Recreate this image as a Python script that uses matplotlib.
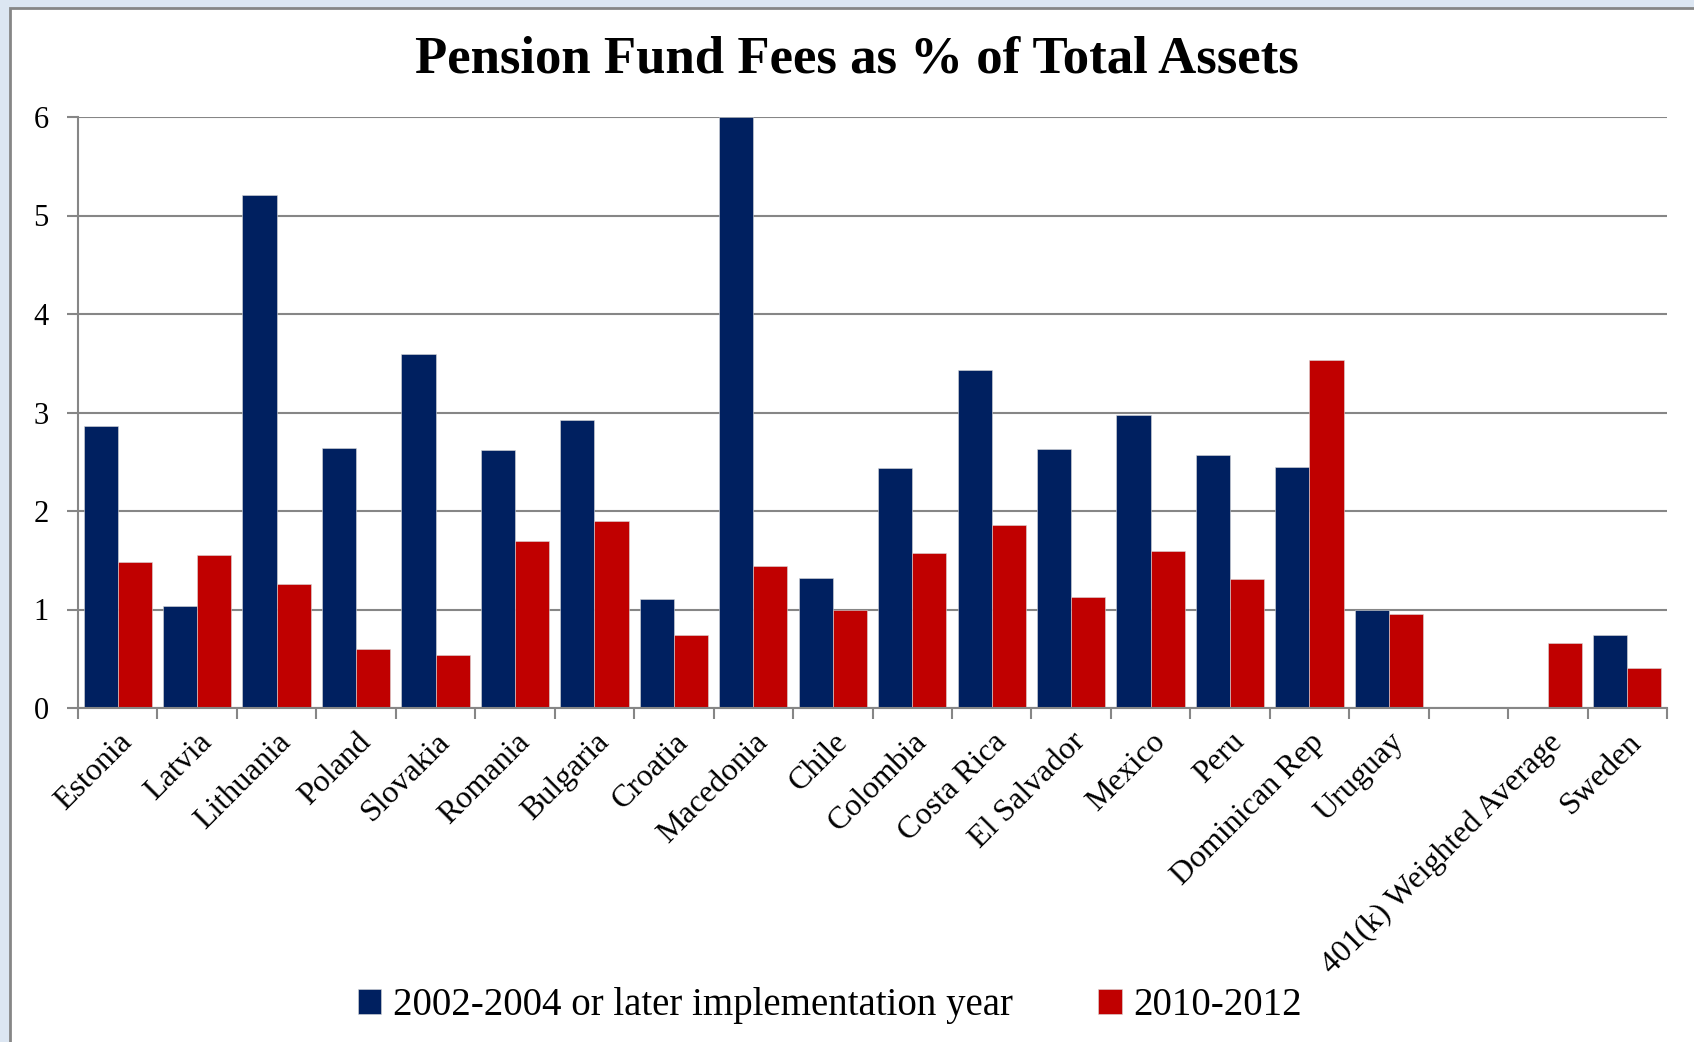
import matplotlib.pyplot as plt
import matplotlib.patches as mpatches
import matplotlib.transforms as mtransforms
import numpy as np

plt.rcParams['font.family'] = ['Liberation Serif', 'DejaVu Serif']

countries = ['Estonia', 'Latvia', 'Lithuania', 'Poland', 'Slovakia', 'Romania',
             'Bulgaria', 'Croatia', 'Macedonia', 'Chile', 'Colombia', 'Costa Rica',
             'El Salvador', 'Mexico', 'Peru', 'Dominican Rep', 'Uruguay', '',
             '401(k) Weighted Average', 'Sweden']
fees_early = [2.86, 1.04, 5.21, 2.64, 3.59, 2.62, 2.92, 1.11, 6.0, 1.32, 2.44, 3.43,
              2.63, 2.97, 2.57, 2.45, 1.0, np.nan, np.nan, 0.74]
fees_late = [1.48, 1.55, 1.26, 0.60, 0.54, 1.70, 1.90, 0.74, 1.44, 1.0, 1.57, 1.86,
             1.13, 1.59, 1.31, 3.53, 0.95, np.nan, 0.66, 0.41]
series_names = ['2002-2004 or later implementation year', '2010-2012']
navy = '#002060'
red = '#c00000'
grey = '#868686'

fig = plt.figure(figsize=(16.94, 10.42), dpi=100, facecolor='#dce6f2')
# white panel with grey frame, like the pasted chart area
panel = mpatches.Rectangle((10 / 1694, -0.1), 1.1, 1 - 8 / 1042 + 0.1,
                           transform=fig.transFigure, facecolor='white',
                           edgecolor=grey, linewidth=2, zorder=-5)
fig.patches.append(panel)

ax = fig.add_axes([78 / 1694, 1 - 708 / 1042, (1667 - 78) / 1694, (708 - 117) / 1042])
ax.set_facecolor('none')

x = np.arange(len(countries))
w = 0.43
ax.bar(x - w / 2, fees_early, w, color=navy, edgecolor='#d9d9d9', linewidth=0.4,
       label=series_names[0], zorder=3)
ax.bar(x + w / 2, fees_late, w, color=red, edgecolor='#d9d9d9', linewidth=0.4,
       label=series_names[1], zorder=3)

ax.set_xlim(-0.5, len(countries) - 0.5)
ax.set_ylim(0, 6)
ax.set_yticks(range(7))
ax.yaxis.grid(True, color=grey, linewidth=1.5, zorder=0)
for s in ['top', 'right']:
    ax.spines[s].set_visible(False)
for s in ['left', 'bottom']:
    ax.spines[s].set_color(grey)
    ax.spines[s].set_linewidth(1.5)
    ax.spines[s].set_zorder(4)

ax.set_xticks(np.arange(len(countries) + 1) - 0.5, minor=False)
ax.set_xticklabels([])
ax.set_xticks(x, minor=True)
labels = ax.set_xticklabels(countries, minor=True, rotation=45, ha='right', va='top',
                            rotation_mode='anchor', fontsize=23)
# nudge the rotated labels a little to the left
shift = mtransforms.ScaledTranslation(-7 / 72, 0, fig.dpi_scale_trans)
for lab in labels:
    lab.set_transform(lab.get_transform() + shift)
ax.tick_params(axis='x', which='major', length=8, width=1.5, color=grey)
ax.tick_params(axis='x', which='minor', length=0, pad=14)
ax.tick_params(axis='y', length=8, width=1.5, color=grey, labelsize=22, pad=13)

fig.text(0.506, 0.943, 'Pension Fund Fees as % of Total Assets', ha='center', va='center',
         fontsize=38, fontweight='bold')

fig.legend(loc='center', bbox_to_anchor=(0.49, 0.035), ncol=2, frameon=False,
           fontsize=28, handlelength=0.6, handleheight=0.6, handletextpad=0.3,
           columnspacing=2.2)

fig.savefig('out.png', dpi=100, facecolor=fig.get_facecolor())
